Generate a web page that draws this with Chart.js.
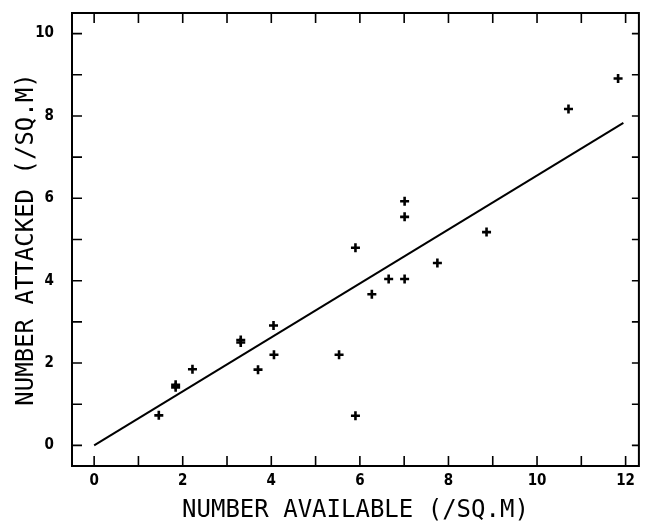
<!DOCTYPE html>
<html>
<head>
<meta charset="utf-8">
<script src="https://cdn.jsdelivr.net/npm/chart.js@4"></script>
<style>
  html, body { margin: 0; padding: 0; background: #fff; }
  #wrap { width: 646px; height: 523px; }
</style>
</head>
<body>
<div id="wrap"><canvas id="myChart" width="646" height="523"></canvas></div>
<script>
// observed densities
const available = [1.46, 1.84, 1.84, 2.22, 3.31, 3.31, 3.70, 4.05, 4.06, 5.53, 5.90, 5.90,
  6.27, 6.65, 7.01, 7.01, 7.01, 7.75, 8.86, 10.71, 11.83];
const attacked = [0.73, 1.41, 1.47, 1.85, 2.50, 2.56, 1.84, 2.91, 2.20, 2.20, 0.72, 4.80,
  3.67, 4.04, 4.04, 5.55, 5.93, 4.43, 5.18, 8.17, 8.91];

// fitted line, through the origin
const fitX = [0, 11.95];
const fitY = [0, 7.83];

const xTickLabels = [0, 2, 4, 6, 8, 10, 12];
const yTickLabels = [0, 2, 4, 6, 8, 10];

const xTitle = 'NUMBER AVAILABLE (/SQ.M)';
const yTitle = 'NUMBER ATTACKED (/SQ.M)';

const tickFont = "bold 15px 'Liberation Sans Narrow', 'DejaVu Sans Condensed', sans-serif";
const titleFont = "24px 'DejaVu Sans Mono', monospace";

// frame, inward ticks on all four sides, tick labels and axis titles
const framePlugin = {
  id: 'frame',
  afterDraw(chart) {
    const { ctx, chartArea: a } = chart;
    const xs = chart.scales.x;
    const ys = chart.scales.y;
    const len = 10;
    ctx.save();
    ctx.strokeStyle = '#000';
    ctx.lineWidth = 2;
    ctx.strokeRect(a.left, a.top, a.right - a.left, a.bottom - a.top);

    ctx.lineWidth = 1.6;
    ctx.beginPath();
    for (let v = Math.ceil(xs.min); v <= Math.floor(xs.max); v++) {
      const px = xs.getPixelForValue(v);
      ctx.moveTo(px, a.bottom); ctx.lineTo(px, a.bottom - len);
      ctx.moveTo(px, a.top); ctx.lineTo(px, a.top + len);
    }
    for (let v = Math.ceil(ys.min); v <= Math.floor(ys.max); v++) {
      const py = ys.getPixelForValue(v);
      ctx.moveTo(a.left, py); ctx.lineTo(a.left + len, py);
      ctx.moveTo(a.right, py); ctx.lineTo(a.right - 7, py);
    }
    ctx.stroke();

    ctx.fillStyle = '#000';
    ctx.font = tickFont;
    ctx.textBaseline = 'middle';
    ctx.textAlign = 'center';
    xTickLabels.forEach((v) => ctx.fillText(String(v), xs.getPixelForValue(v), a.bottom + 15));
    ctx.textAlign = 'right';
    yTickLabels.forEach((v) => ctx.fillText(String(v), a.left - 18, ys.getPixelForValue(v)));

    ctx.font = titleFont;
    ctx.textAlign = 'center';
    ctx.fillText(xTitle, (a.left + a.right) / 2, 511);
    ctx.translate(27, (a.top + a.bottom) / 2);
    ctx.rotate(-Math.PI / 2);
    ctx.fillText(yTitle, 0, 0);
    ctx.restore();
  },
};

new Chart(document.getElementById('myChart'), {
  type: 'scatter',
  data: {
    datasets: [
      {
        label: 'observed',
        data: available.map((x, i) => ({ x: x, y: attacked[i] })),
        pointStyle: 'cross',
        pointRadius: 4.5,
        borderColor: '#000',
        backgroundColor: '#000',
        borderWidth: 2.6,
      },
      {
        label: 'fit',
        data: fitX.map((x, i) => ({ x: x, y: fitY[i] })),
        showLine: true,
        pointRadius: 0,
        borderColor: '#000',
        borderWidth: 2,
      },
    ],
  },
  options: {
    responsive: false,
    animation: false,
    layout: { padding: { top: 13, right: 0, left: 0, bottom: 0 } },
    plugins: { legend: { display: false }, tooltip: { enabled: false } },
    scales: {
      x: {
        type: 'linear',
        min: -0.5,
        max: 12.3,
        afterFit: (s) => { s.height = 57; },
        grid: { display: false, drawTicks: false },
        border: { display: false },
        ticks: { display: false },
      },
      y: {
        type: 'linear',
        min: -0.5,
        max: 10.5,
        afterFit: (s) => { s.width = 72; },
        grid: { display: false, drawTicks: false },
        border: { display: false },
        ticks: { display: false },
      },
    },
  },
  plugins: [framePlugin],
});
</script>
</body>
</html>
